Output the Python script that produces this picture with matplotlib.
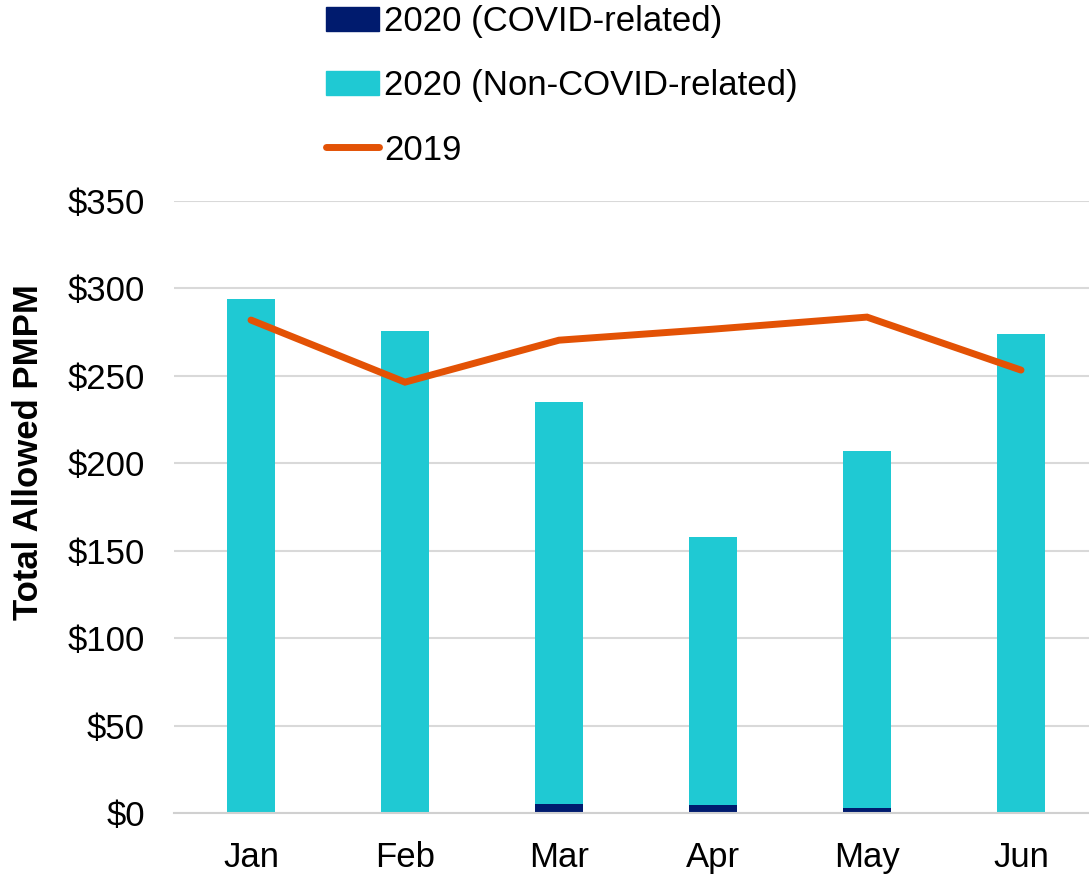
import matplotlib

matplotlib.use("Agg")
import matplotlib.pyplot as plt
from matplotlib.patches import Patch
from matplotlib.lines import Line2D

# values
months = ["Jan", "Feb", "Mar", "Apr", "May", "Jun"]
covid_2020 = [0.0, 0.0, 5.1, 4.6, 2.9, 0.6]
total_2020 = [293.9, 275.6, 235.0, 157.8, 207.0, 273.9]
non_covid_2020 = [t - c for t, c in zip(total_2020, covid_2020)]
pmpm_2019 = [281.9, 246.4, 270.4, 276.7, 283.6, 253.3]

NAVY = "#001b6e"
CYAN = "#1fc9d3"
ORANGE = "#e35205"

plt.rcParams["font.family"] = ["Liberation Sans", "DejaVu Sans"]

fig = plt.figure(figsize=(10.89, 8.74), dpi=100)
ax = fig.add_axes([174 / 1089, 61 / 874, 924 / 1089, 612 / 874])

x = list(range(len(months)))
ax.bar(x, covid_2020, width=0.31, color=NAVY, zorder=2)
ax.bar(x, non_covid_2020, width=0.31, bottom=covid_2020, color=CYAN, zorder=2)
ax.plot(x, pmpm_2019, color=ORANGE, lw=5, solid_capstyle="round",
        solid_joinstyle="miter", zorder=3)

ax.set_xlim(-0.5, len(months) - 0.5)
ax.set_ylim(0, 350)
ax.set_yticks(range(0, 351, 50))
ax.set_yticklabels([f"${v}" for v in range(0, 351, 50)])
ax.set_xticks(x)
ax.set_xticklabels(months)
ax.tick_params(axis="both", length=0, labelsize=25, colors="black")
ax.tick_params(axis="y", pad=21)
ax.tick_params(axis="x", pad=20)
ax.yaxis.grid(True, color="#d9d9d9", lw=1.5, zorder=0)
ax.set_axisbelow(True)
for side in ("top", "right", "left"):
    ax.spines[side].set_visible(False)
ax.spines["bottom"].set_color("#d0d0d0")
ax.spines["bottom"].set_linewidth(1.5)
ax.set_ylabel("Total Allowed PMPM", fontsize=25, fontweight="bold")
ax.yaxis.set_label_coords(-0.14, 0.59)

handles = [
    Patch(color=NAVY, label="2020 (COVID-related)"),
    Patch(color=CYAN, label="2020 (Non-COVID-related)"),
    Line2D([], [], color=ORANGE, lw=5, solid_capstyle="round", label="2019"),
]
fig.legend(handles=handles, loc="upper left", bbox_to_anchor=(312 / 1089, 1.01),
           frameon=False, fontsize=25, handlelength=1.53, handletextpad=0.15,
           labelspacing=0.9, borderaxespad=0)

fig.savefig("out.png", dpi=100)
